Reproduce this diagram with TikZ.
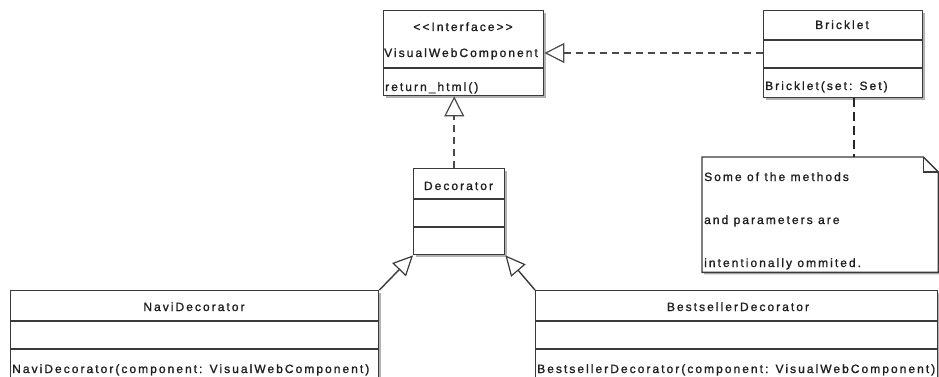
\documentclass[tikz,border=0pt]{standalone}
\usepackage{fontspec}
\newfontfamily\umlfont[LetterSpace=17, FakeBold=1.2]{Liberation Sans}
\usetikzlibrary{arrows.meta,shadows,calc}
\definecolor{linec}{HTML}{3A3A3A}
\definecolor{txtc}{HTML}{1E1E1E}
\definecolor{dashc}{HTML}{4A4A4A}
\begin{document}
\begin{tikzpicture}[x=1pt,y=-1pt,
  font=\umlfont\fontsize{12}{14}\selectfont,
  classbox/.style={draw=linec, line width=1.4pt, fill=white, inner sep=0pt, anchor=north west,
    drop shadow={shadow xshift=2pt, shadow yshift=-2pt, fill=black!30, opacity=1}},
  divline/.style={draw=linec, line width=1.4pt},
  lbl/.style={text=txtc, inner sep=0pt},
  realize/.style={draw=dashc, line width=2pt, dash pattern=on 7pt off 5pt,
    -{Triangle[open, length=20pt, width=20pt, line width=1.2pt, fill=white]}},
  general/.style={draw=linec, line width=1.4pt,
    -{Triangle[open, length=20pt, width=19pt, line width=1.2pt, fill=white]}},
  notelink/.style={draw=black!85, line width=2.5pt, dash pattern=on 9pt off 5pt}
]
\useasboundingbox (0,0) rectangle (939,377);

% Interface
\node[classbox, minimum width=160pt, minimum height=85pt] (iface) at (383,10) {};
\draw[divline] (iface.west |- 0,68) -- (iface.east |- 0,68);
\node[lbl, anchor=base] (ifst) at (463,31) {<<Interface>>};
\node[lbl, anchor=base west] (ifname) at (384,57) {VisualWebComponent};
\node[lbl, anchor=base west] (ifm) at (385,91) {return\_html()};

% Bricklet
\node[classbox, minimum width=159pt, minimum height=87pt] (brick) at (763,10) {};
\draw[divline] (brick.west |- 0,40) -- (brick.east |- 0,40);
\draw[divline] (brick.west |- 0,68) -- (brick.east |- 0,68);
\node[lbl, anchor=base] (brname) at (842,29) {Bricklet};
\node[lbl, anchor=base west] (brm) at (765,90) {Bricklet(set: Set)};

% Note
\node[inner sep=0pt, minimum width=236pt, minimum height=115pt, anchor=north west] (note) at (702,157) {};
\draw[draw=linec, line width=1.4pt, fill=white,
  drop shadow={shadow xshift=2pt, shadow yshift=-2pt, fill=black!30, opacity=1}]
  (note.north west) -- ($(note.north east)+(-15,0)$) -- ($(note.north east)+(0,15)$)
  -- (note.south east) -- (note.south west) -- cycle;
\draw[draw=linec, line width=1.2pt] ($(note.north east)+(-15,0)$) -- ($(note.north east)+(-15,15)$) -- ($(note.north east)+(0,15)$);
\node[lbl, anchor=base west] (n1) at (704,181) {Some of the methods};
\node[lbl, anchor=base west] (n2) at (704,224) {and parameters are};
\node[lbl, anchor=base west] (n3) at (704,267) {intentionally ommited.};

% Decorator
\node[classbox, minimum width=91pt, minimum height=86pt] (dec) at (413,168) {};
\draw[divline] (dec.west |- 0,199) -- (dec.east |- 0,199);
\draw[divline] (dec.west |- 0,227) -- (dec.east |- 0,227);
\node[lbl, anchor=base] (decname) at (458.5,190) {Decorator};

% NaviDecorator
\node[classbox, minimum width=368pt, minimum height=88pt] (navi) at (10,290) {};
\draw[divline] (navi.west |- 0,321) -- (navi.east |- 0,321);
\draw[divline] (navi.west |- 0,349) -- (navi.east |- 0,349);
\node[lbl, anchor=base] (naviname) at (194,311) {NaviDecorator};
\node[lbl, anchor=base west] (navim) at (12,373) {NaviDecorator(component: VisualWebComponent)};

% BestsellerDecorator
\node[classbox, minimum width=402pt, minimum height=88pt] (best) at (535,290) {};
\draw[divline] (best.west |- 0,321) -- (best.east |- 0,321);
\draw[divline] (best.west |- 0,349) -- (best.east |- 0,349);
\node[lbl, anchor=base] (bestname) at (738,311) {BestsellerDecorator};
\node[lbl, anchor=base west] (bestm) at (537,373) {BestsellerDecorator(component: VisualWebComponent)};

% Connectors
\draw[realize] ([xshift=-5pt]dec.north) -- ([xshift=-5pt]dec.north |- iface.south);
\draw[realize] (brick.west |- 0,53) -- (iface.east |- 0,53);
\draw[notelink] ([xshift=11pt]brick.south) -- ([xshift=11pt]brick.south |- note.north);
\draw[general] (navi.north east) -- (dec.south west);
\draw[general] (best.north west) -- (dec.south east);
\end{tikzpicture}
\end{document}
